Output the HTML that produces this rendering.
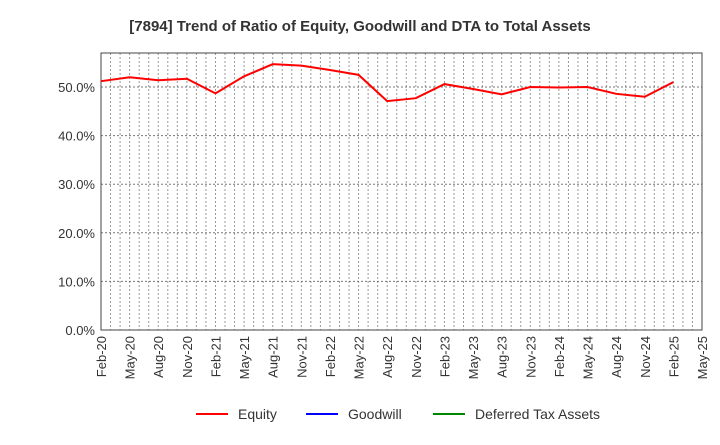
<!DOCTYPE html>
<html><head><meta charset="utf-8"><style>
body{margin:0;background:#fff;font-family:"Liberation Sans",sans-serif}
</style></head><body>
<svg id="c" width="720" height="440" xmlns="http://www.w3.org/2000/svg">
<text x="360" y="31" text-anchor="middle" font-size="15" font-weight="bold" fill="#333">[7894]  Trend of Ratio of Equity, Goodwill and DTA to Total Assets</text>
<g id="grid"></g><g id="axes"></g><g id="series"></g>
<g font-size="14" fill="#333">
<g><line x1="196" y1="414" x2="228" y2="414" stroke="#f00" stroke-width="2"/><text x="238" y="419">Equity</text></g>
<g><line x1="306" y1="414" x2="338" y2="414" stroke="#00f" stroke-width="2"/><text x="348" y="419">Goodwill</text></g>
<g><line x1="433" y1="414" x2="465" y2="414" stroke="#080" stroke-width="2"/><text x="475" y="419">Deferred Tax Assets</text></g>
</g>
</svg>
<script>
const categories=["Feb-20","May-20","Aug-20","Nov-20","Feb-21","May-21","Aug-21","Nov-21","Feb-22","May-22","Aug-22","Nov-22","Feb-23","May-23","Aug-23","Nov-23","Feb-24","May-24","Aug-24","Nov-24","Feb-25","May-25"];
const equity=[51.2,52.0,51.4,51.7,48.7,52.2,54.7,54.4,53.5,52.5,47.1,47.7,50.6,49.6,48.5,50.0,49.9,50.0,48.6,48.0,51.0];
const yTicks=[0,10,20,30,40,50];
const yTickLabels=["0.0%","10.0%","20.0%","30.0%","40.0%","50.0%"];
const L=101,R=702,T=53,B=330,YMAX=57;
const NS="http://www.w3.org/2000/svg";
const xs=i=>L+i*(R-L)/(categories.length-1);
const ys=v=>B-(v/YMAX)*(B-T);
function mk(t,a,p){const e=document.createElementNS(NS,t);for(const k in a)e.setAttribute(k,a[k]);p.appendChild(e);return e;}
const grid=document.getElementById('grid'),axes=document.getElementById('axes'),ser=document.getElementById('series');
const nm=(categories.length-1)*3;
for(let m=1;m<nm;m++){const x=L+m*(R-L)/nm;const l=mk('line',{x1:x,x2:x,y1:T,y2:B,stroke:'#999','stroke-dasharray':'2,2'},grid);

}
yTicks.forEach((v,i)=>{const y=ys(v);
if(v>0){const g=mk('line',{x1:L,x2:R,y1:y,y2:y,stroke:'#777','stroke-dasharray':'2,2'},grid);

}
const t=mk('text',{x:L-6,y:y+5,'text-anchor':'end','font-size':'13',fill:'#333'},axes);t.textContent=yTickLabels[i];

});
categories.forEach((c,i)=>{const x=xs(i);const t=mk('text',{transform:`translate(${x+5},${B+6}) rotate(-90)`,'text-anchor':'end','font-size':'13',fill:'#333'},axes);t.textContent=c;

});
const fr=mk('rect',{x:L,y:T,width:R-L,height:B-T,fill:'none',stroke:'#444','stroke-width':1},axes);


const p=mk('polyline',{points:equity.map((v,i)=>xs(i)+','+ys(v)).join(' '),fill:'none',stroke:'#f00','stroke-width':2},ser);


</script>
</body></html>
